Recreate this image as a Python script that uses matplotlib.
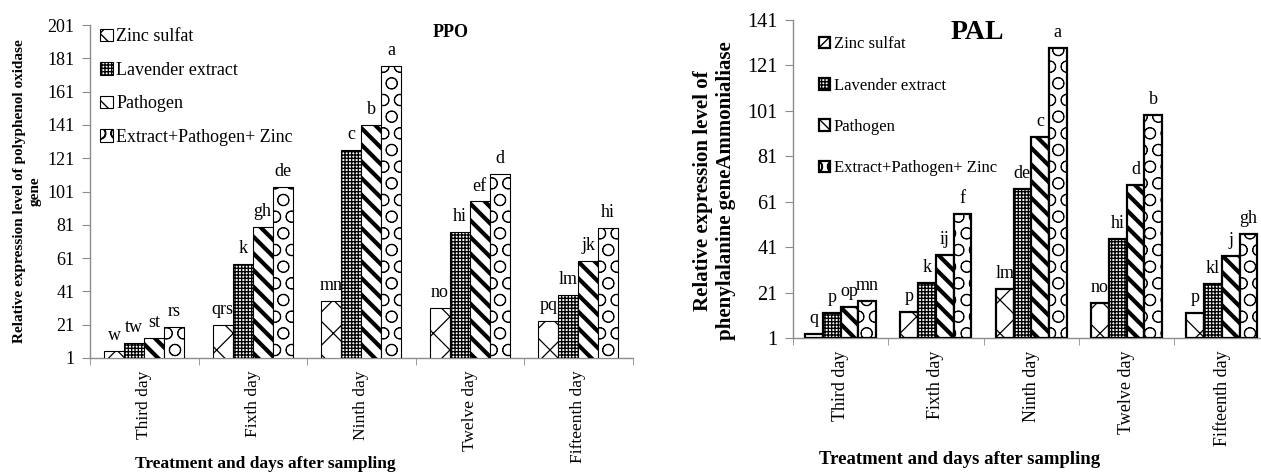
import matplotlib
matplotlib.use("Agg")
import matplotlib.pyplot as plt
import numpy as np
from matplotlib.patches import Patch

plt.rcParams["font.family"] = ["Liberation Serif", "DejaVu Serif"]

# --- Data ---------------------------------------------------------------------
days = ["Third day", "Fixth day", "Ninth day", "Twelve day", "Fifteenth day"]
series = ["Zinc sulfat", "Lavender extract", "Pathogen", "Extract+Pathogen+ Zinc"]

ppo_zinc = [5.2, 21, 35, 31, 23]
ppo_lavender = [10.3, 57.5, 125.8, 76.5, 39]
ppo_pathogen = [13, 79.8, 140.8, 95, 59]
ppo_extract = [19.6, 103.5, 176.5, 111.3, 79]
ppo_letters = [["w", "qrs", "mn", "no", "pq"],
               ["tw", "k", "c", "hi", "lm"],
               ["st", "gh", "b", "ef", "jk"],
               ["rs", "de", "a", "d", "hi"]]

pal_zinc = [3, 12.5, 22.5, 16.7, 12]
pal_lavender = [12, 25.3, 66.7, 44.8, 24.9]
pal_pathogen = [14.8, 37.8, 89.5, 68.4, 37.2]
pal_extract = [17.5, 55.8, 128.5, 99.2, 47]
pal_letters = [["q", "p", "lm", "no", "p"],
               ["p", "k", "de", "hi", "kl"],
               ["op", "ij", "c", "d", "j"],
               ["mn", "f", "a", "b", "gh"]]

# hatch, hatch linewidth per series
styles = [("x", 0.9), ("+++++", 1.0), ("\\\\", 3.0), ("O", 0.6)]
AXIS_GREY = "#8c8c8c"


def draw_panel(ax, values, letters, ymax, width, edge_lw, fs_xtick, fs_ytick,
               fs_letter):
    x = np.arange(len(days)) + 0.5
    for i, (vals, (hatch, hlw)) in enumerate(zip(values, styles)):
        vals = np.asarray(vals)
        with plt.rc_context({"hatch.linewidth": hlw}):
            bars = ax.bar(x + (i - 1.5) * width, vals - 1, width, bottom=1,
                          color="white", edgecolor="black", hatch=hatch,
                          linewidth=edge_lw, zorder=3)
        for b in bars:
            if hasattr(b, "set_hatch_linewidth"):
                b.set_hatch_linewidth(hlw)
        for xi, v, lab in zip(x + (i - 1.5) * width, vals, letters[i]):
            ax.annotate(lab, (xi, v), xytext=(0, 5), textcoords="offset points",
                        ha="center", va="bottom", fontsize=fs_letter)
    ax.set_xlim(0, len(days))
    ax.set_ylim(1, ymax)
    ax.set_yticks(np.arange(1, ymax + 1, 20))
    ax.set_xticks(x)
    ax.set_xticklabels(days, rotation=90, fontsize=fs_xtick)
    ax.set_xticks(np.arange(0, len(days) + 1), minor=True)
    ax.tick_params(axis="x", which="major", length=0, pad=9)
    ax.tick_params(axis="x", which="minor", length=5, color=AXIS_GREY)
    ax.tick_params(axis="y", length=6, color=AXIS_GREY, labelsize=fs_ytick, pad=5)
    for s in ["top", "right"]:
        ax.spines[s].set_visible(False)
    for s in ["left", "bottom"]:
        ax.spines[s].set_color(AXIS_GREY)
        ax.spines[s].set_linewidth(1.0)


def legend_handles(edge_lw):
    hs = []
    for name, (hatch, hlw) in zip(series, styles):
        with plt.rc_context({"hatch.linewidth": hlw}):
            p = Patch(facecolor="white", edgecolor="black", hatch=hatch,
                      linewidth=edge_lw, label=name)
        if hasattr(p, "set_hatch_linewidth"):
            p.set_hatch_linewidth(hlw)
        hs.append(p)
    return hs


fig = plt.figure(figsize=(12.61, 4.75), dpi=100)

# --- PPO panel ----------------------------------------------------------------
ax1 = fig.add_axes([90 / 1261, 117 / 475, 542.5 / 1261, 333 / 475])
draw_panel(ax1, [ppo_zinc, ppo_lavender, ppo_pathogen, ppo_extract],
           ppo_letters, 201, 0.184, 0.8, 12.5, 13, 13)
ax1.set_ylabel("Relative expression level of polyphenol oxidase\ngene",
               fontsize=11, fontweight="bold", linespacing=1.2)
ax1.yaxis.set_label_coords(-0.09, 0.5)
ax1.set_xlabel("Treatment and days after sampling", fontsize=12.5,
               fontweight="bold")
ax1.xaxis.set_label_coords(0.323, -0.293)
ax1.text(0.664, 0.976, "PPO", transform=ax1.transAxes, fontsize=13,
         fontweight="bold", ha="center", va="center")
ax1.legend(handles=legend_handles(0.8), loc="upper left",
           bbox_to_anchor=(0.005, 1.012), frameon=False, fontsize=13,
           handlelength=0.7, handleheight=0.7, handletextpad=0.2,
           labelspacing=0.92, borderaxespad=0)

# --- PAL panel ----------------------------------------------------------------
ax2 = fig.add_axes([793 / 1261, 136.7 / 475, 476.5 / 1261, 318.3 / 475])
draw_panel(ax2, [pal_zinc, pal_lavender, pal_pathogen, pal_extract],
           pal_letters, 141, 0.186, 1.6, 13, 14.5, 13)
ax2.set_ylabel("Relative expression level of\nphenylalanine geneAmmonialiase",
               fontsize=15, fontweight="bold", linespacing=1.2)
ax2.yaxis.set_label_coords(-0.12, 0.465)
ax2.set_xlabel("Treatment and days after sampling", fontsize=13.5,
               fontweight="bold")
ax2.xaxis.set_label_coords(0.35, -0.355)
ax2.text(0.386, 0.962, "PAL", transform=ax2.transAxes, fontsize=20,
         fontweight="bold", ha="center", va="center")
ax2.legend(handles=legend_handles(1.6), loc="upper left",
           bbox_to_anchor=(0.04, 0.97), frameon=False, fontsize=12,
           handlelength=0.7, handleheight=0.7, handletextpad=0.2,
           labelspacing=1.52, borderaxespad=0)

fig.savefig("out.png", dpi=100)
